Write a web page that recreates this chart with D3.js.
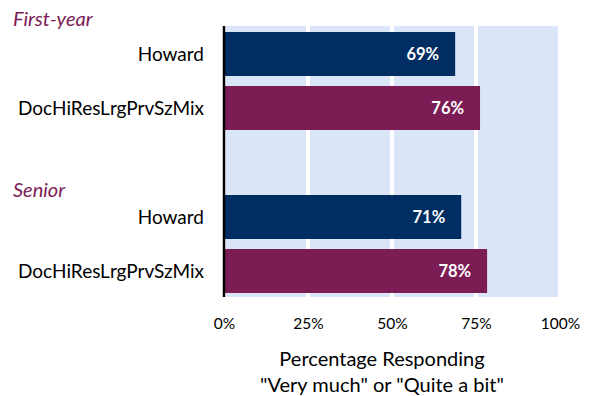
<!DOCTYPE html>
<html><head><meta charset="utf-8">
<script src="https://cdn.jsdelivr.net/npm/d3@7"></script>
<style>body{margin:0;background:#fff}svg{display:block}text{font-family:Lato,"Open Sans",sans-serif}</style>
</head><body><svg id="c" width="593" height="396"></svg>
<script>
const groups = ["First-year", "Senior"];
const categories = ["Howard", "DocHiResLrgPrvSzMix"];
const firstYearValues = [68.8, 76.2];
const seniorValues = [70.6, 78.3];
const seriesValues = [firstYearValues, seniorValues];
const tickValues = [0, 25, 50, 75, 100];
const tickLabels = ["0%", "25%", "50%", "75%", "100%"];
const colors = ["#002D62", "#7B1C55"];

const svg = d3.select("#c");
const x = d3.scaleLinear().domain([0, 100]).range([224, 560]);
const rowBands = [
  {g:0, c:0, y0:32, y1:76},
  {g:0, c:1, y0:86, y1:130},
  {g:1, c:0, y0:195, y1:239},
  {g:1, c:1, y0:249, y1:293}
];
const plotTop = 26, plotBottom = 297;

svg.append("rect").attr("x", x(0)).attr("y", plotTop)
  .attr("width", x(100) - x(0)).attr("height", plotBottom - plotTop).attr("fill", "#DAE5F7");
svg.selectAll("line.grid").data(tickValues).join("line").attr("class","grid")
  .attr("x1", d => x(d)).attr("x2", d => x(d)).attr("y1", plotTop).attr("y2", plotBottom)
  .attr("stroke", "#fff").attr("stroke-width", 4);

const data = rowBands.map(r => ({...r, v: seriesValues[r.g][r.c], label: categories[r.c]}));
svg.selectAll("rect.bar").data(data).join("rect").attr("class","bar")
  .attr("x", x(0)).attr("y", d => d.y0).attr("width", d => x(d.v) - x(0))
  .attr("height", d => d.y1 - d.y0).attr("fill", d => colors[d.c]);

svg.selectAll("text.val").data(data).join("text").attr("class","val")
  .attr("x", d => x(d.v) - 16).attr("y", d => (d.y0 + d.y1) / 2).attr("dy", "0.36em")
  .attr("text-anchor", "end").attr("fill", "#fff").attr("font-weight", "bold")
  .attr("font-size", 16.5).text(d => Math.round(d.v) + "%");

svg.selectAll("text.cat").data(data).join("text").attr("class","cat")
  .attr("x", 204).attr("y", d => (d.y0 + d.y1) / 2).attr("dy", "0.36em")
  .attr("text-anchor", "end").attr("fill", "#000").attr("font-size", 19).text(d => d.label);

svg.selectAll("text.grp").data(groups).join("text").attr("class","grp")
  .attr("x", 13).attr("y", (d, i) => i === 0 ? 26 : 197)
  .attr("fill", "#7B1C55").attr("font-style", "italic").attr("font-size", 20).text(d => d);

svg.append("line").attr("x1", x(0)).attr("x2", x(0)).attr("y1", plotTop).attr("y2", plotBottom)
  .attr("stroke", "#000").attr("stroke-width", 2.5);

const axis = d3.axisBottom(x).tickValues(tickValues).tickSize(0).tickPadding(0)
  .tickFormat((d, i) => tickLabels[i]);
const ag = svg.append("g").attr("transform", `translate(0,${plotBottom})`).call(axis);
ag.select(".domain").remove();
ag.selectAll("text").attr("y", 26).attr("dy", "0.36em").attr("font-size", 15.5)
  .attr("font-family", "Lato,'Open Sans',sans-serif").attr("fill", "#000");

const title = svg.append("text").attr("x", 382).attr("text-anchor", "middle")
  .attr("font-size", 20).attr("fill", "#000");
title.append("tspan").attr("x", 382).attr("y", 366).text("Percentage Responding");
title.append("tspan").attr("x", 382).attr("y", 392).text("\"Very much\" or \"Quite a bit\"");
</script></body></html>
